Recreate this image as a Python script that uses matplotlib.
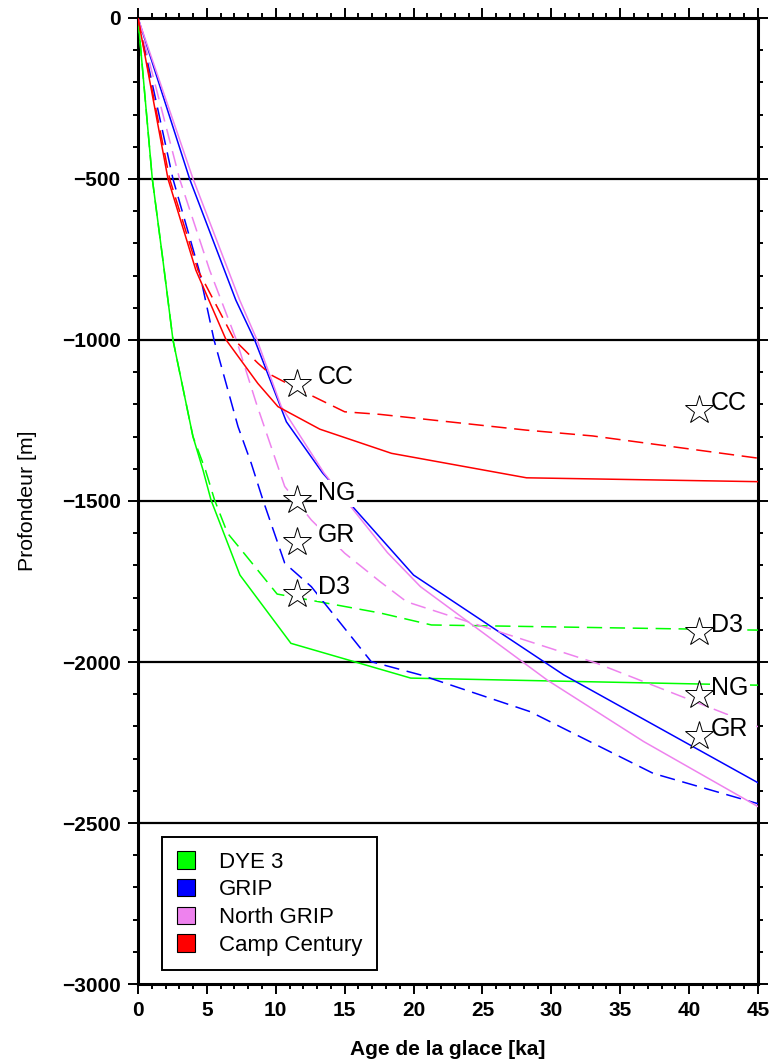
import matplotlib
matplotlib.use("Agg")
import matplotlib.pyplot as plt
from matplotlib.patches import Patch
from matplotlib.ticker import MultipleLocator

plt.rcParams['font.family'] = ['Liberation Sans', 'DejaVu Sans']

# age [ka] / depth [m] profiles, solid = model 1, dashed = model 2
dye3_age = [0, 0.53, 1.04, 1.81, 2.54, 3.99, 4.72, 5.3, 7.4, 11.1, 19.8, 45]
dye3_depth = [0, -255, -500, -752, -1000, -1300, -1404, -1497, -1730, -1942, -2050, -2072]
dye3_age_d = [0, 0.53, 1.04, 1.81, 2.54, 3.99, 4.9, 5.56, 6.5, 7.5, 10.1, 17.6, 21.3, 45]
dye3_depth_d = [0, -255, -500, -752, -1000, -1300, -1404, -1497, -1600, -1652, -1789, -1848, -1885, -1901]

grip_age = [0, 3.75, 7.1, 8.47, 10.77, 13.4, 20.0, 30.9, 45]
grip_depth = [0, -500, -876, -1000, -1254, -1413, -1730, -2040, -2375]
grip_age_d = [0, 2.54, 4.43, 5.52, 7.26, 8.22, 9.07, 10.65, 12.58, 16.93, 20.5, 28.45, 37.4, 45]
grip_depth_d = [0, -500, -783, -1000, -1269, -1383, -1497, -1693, -1766, -1999, -2040, -2154, -2346, -2440]

ngrip_age = [0, 4.0, 7.38, 8.64, 10.4, 13.5, 18.1, 20.5, 29.7, 36.7, 45]
ngrip_depth = [0, -500, -876, -1000, -1207, -1413, -1660, -1766, -2056, -2247, -2449]
ngrip_age_d = [0, 3.02, 5.2, 7.14, 8.59, 10.65, 12.58, 15.0, 17.56, 19.5, 23.6, 33.3, 43.2, 45]
ngrip_depth_d = [0, -500, -783, -1000, -1197, -1455, -1559, -1662, -1750, -1813, -1870, -2004, -2170, -2201]

cc_age = [0, 2.18, 4.2, 6.4, 8.7, 10.16, 13.2, 18.4, 28.2, 45]
cc_depth = [0, -500, -783, -1000, -1135, -1207, -1277, -1352, -1428, -1440]
cc_age_d = [0, 2.3, 4.35, 7.0, 8.7, 9.68, 11.37, 15.0, 17.56, 28.2, 33, 45]
cc_depth_d = [0, -500, -783, -1000, -1072, -1109, -1147, -1223, -1231, -1280, -1298, -1367]

# star markers and their labels
star_labels = ['CC', 'NG', 'GR', 'D3', 'CC', 'D3', 'NG', 'GR']
star_age = [11.54, 11.54, 11.54, 11.54, 40.75, 40.75, 40.75, 40.75]
star_depth = [-1137, -1498, -1628, -1789, -1216, -1906, -2102, -2229]
label_age = [13.08, 13.08, 13.08, 13.08, 41.6, 41.6, 41.6, 41.6]

legend_names = ['DYE 3', 'GRIP', 'North GRIP', 'Camp Century']
colors = ['#00ff00', '#0000ff', '#ee82ee', '#ff0000']

fig = plt.figure(figsize=(7.73, 10.63), dpi=100)
ax = fig.add_axes([0.1785, 0.0743, 0.8021, 0.9088])

lw = 1.1
dash = (10, 5)
series = [(dye3_age, dye3_depth, dye3_age_d, dye3_depth_d),
          (grip_age, grip_depth, grip_age_d, grip_depth_d),
          (ngrip_age, ngrip_depth, ngrip_age_d, ngrip_depth_d),
          (cc_age, cc_depth, cc_age_d, cc_depth_d)]
for (a, d, ad, dd), c in zip(series, colors):
    ax.plot(a, d, color=c, lw=lw, zorder=3)
    ax.plot(ad, dd, color=c, lw=lw, dashes=dash, zorder=3)

for y in [-500, -1000, -1500, -2000, -2500]:
    ax.axhline(y, color='black', lw=1.6, zorder=2)

ax.plot(star_age, star_depth, ls='none', marker='*', markersize=21,
        markerfacecolor='white', markeredgecolor='black', markeredgewidth=0.7, zorder=6)
for lab, x, y in zip(star_labels, label_age, star_depth):
    ax.text(x, y, lab, fontsize=18, ha='left', va='baseline', zorder=5,
            bbox=dict(facecolor='white', edgecolor='none', pad=1.0))

ax.set_xlim(0, 45)
ax.set_ylim(-3000, 0)
ax.xaxis.set_major_locator(MultipleLocator(5))
ax.xaxis.set_minor_locator(MultipleLocator(1))
ax.yaxis.set_major_locator(MultipleLocator(500))
ax.yaxis.set_minor_locator(MultipleLocator(100))
ax.tick_params(which='both', direction='out', top=True, right=True, width=1.4)
ax.tick_params(which='major', length=7.5, labelsize=15, pad=5)
ax.tick_params(which='minor', length=3.8)
for lbl in ax.get_xticklabels() + ax.get_yticklabels():
    lbl.set_fontweight('bold')
for s in ax.spines.values():
    s.set_linewidth(2.2)

ax.set_xlabel('Age de la glace [ka]', fontsize=15, fontweight='bold', labelpad=14)
ax.set_ylabel('Profondeur [m]', fontsize=15.3, labelpad=18)

handles = [Patch(facecolor=c, edgecolor='black', lw=0.8) for c in colors]
leg = ax.legend(handles, legend_names, loc='lower left', bbox_to_anchor=(0.039, 0.0145),
                borderaxespad=0, fontsize=16, handlelength=0.82, handleheight=0.82,
                handletextpad=1.1, labelspacing=0.28, borderpad=0.65, fancybox=False,
                framealpha=1, edgecolor='black')
leg.get_frame().set_linewidth(1.4)
leg.set_zorder(7)

fig.savefig('out.png', dpi=100)
